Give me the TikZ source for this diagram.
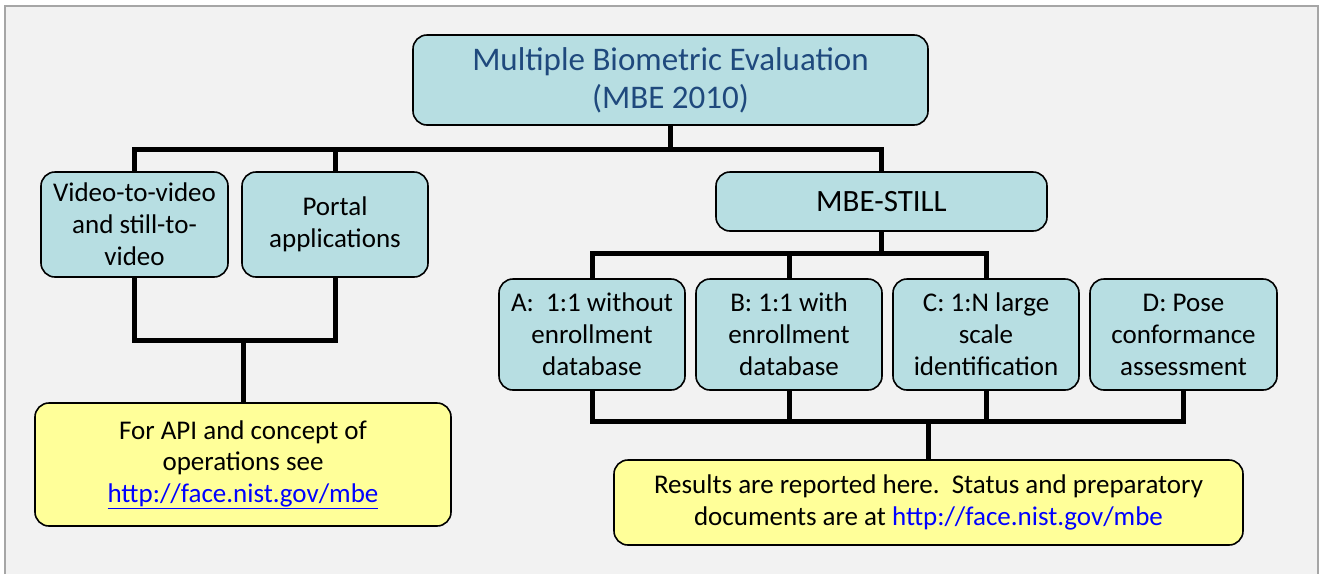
\documentclass[tikz,border=0pt]{standalone}
\usepackage{fontspec}
\setmainfont{Carlito}
\usepackage{xcolor}
\definecolor{bgcol}{HTML}{F2F2F2}
\definecolor{framecol}{HTML}{A6A6A6}
\definecolor{tealfill}{HTML}{B7DEE2}
\definecolor{notefill}{HTML}{FFFF99}
\definecolor{titleblue}{HTML}{1F497D}
\definecolor{linkblue}{HTML}{0000FF}
\newcommand{\weblink}[1]{\textcolor{linkblue}{\underline{#1}}}

\begin{document}
\begin{tikzpicture}[x=1pt,y=1pt]
\tikzstyle{every node}+=[inner sep=0pt]
\tikzstyle{box}=[draw=black,line width=1.6pt,rounded corners=14pt,align=center]
\tikzstyle{tealbox}=[box,fill=tealfill,font=\fontsize{27}{32}\selectfont]
\tikzstyle{notebox}=[box,fill=notefill,font=\fontsize{27}{31.5}\selectfont]
\tikzstyle{conn}=[line width=5pt,black]
\useasboundingbox (0,0) rectangle (1325,-574);
% page frame
\fill [bgcol] (5,-6) rectangle (1318,-574);
\draw [framecol,line width=1.5pt] (5,-574) -- (5,-6) -- (1318,-6) -- (1318,-574);
% boxes
\node [tealbox,minimum width=515,minimum height=90,text=titleblue,font=\fontsize{33}{38}\selectfont] (mbe) at (670.5,-80) {Multiple Biometric Evaluation\\(MBE 2010)};
\node [tealbox,minimum width=187,minimum height=105] (vid) at (134.5,-224.5) {Video-to-video\\and still-to-\\video};
\node [tealbox,minimum width=186,minimum height=105] (portal) at (335,-224.5) {Portal\\applications};
\node [tealbox,minimum width=331,minimum height=59,font=\fontsize{31}{32}\selectfont] (still) at (881.5,-201.5) {MBE-STILL};
\node [tealbox,minimum width=186,minimum height=111] (taska) at (592,-334.5) {A:\ \ 1:1 without\\enrollment\\database};
\node [tealbox,minimum width=186,minimum height=111] (taskb) at (789,-334.5) {B: 1:1 with\\enrollment\\database};
\node [tealbox,minimum width=186,minimum height=111] (taskc) at (986,-334.5) {C: 1:N large\\scale\\identification};
\node [tealbox,minimum width=187,minimum height=111] (taskd) at (1183.5,-334.5) {D: Pose\\conformance\\assessment};
\node [notebox,minimum width=416,minimum height=123] (apiinfo) at (243,-464.5) {For API and concept of\\operations see\\\weblink{http://face.nist.gov/mbe}};
\node [notebox,minimum width=629,minimum height=85] (results) at (928.5,-502.5) {Results are reported here.\ \ Status and preparatory\\documents are at \textcolor{linkblue}{http://face.nist.gov/mbe}};
% bus lines
\coordinate (bustop) at (0,-149);
\coordinate (busleft) at (0,-340);
\coordinate (busstill) at (0,-253);
\coordinate (buslow) at (0,-421);
% connectors
\draw [conn] (mbe.south) -- (mbe.south |- bustop);
\draw [conn] (vid.north) |- (still.north |- bustop) -- (still.north);
\draw [conn] (portal.north) -- (portal.north |- bustop);
\draw [conn] (vid.south) |- (portal.south |- busleft) -- (portal.south);
\draw [conn] (apiinfo.north) -- (apiinfo.north |- busleft);
\draw [conn] (still.south) -- (still.south |- busstill);
\draw [conn] (taska.north) |- (taskc.north |- busstill) -- (taskc.north);
\draw [conn] (taskb.north) -- (taskb.north |- busstill);
\draw [conn] (taska.south) |- (taskd.south |- buslow) -- (taskd.south);
\draw [conn] (taskb.south) -- (taskb.south |- buslow);
\draw [conn] (taskc.south) -- (taskc.south |- buslow);
\draw [conn] (results.north) -- (results.north |- buslow);
\end{tikzpicture}
\end{document}
